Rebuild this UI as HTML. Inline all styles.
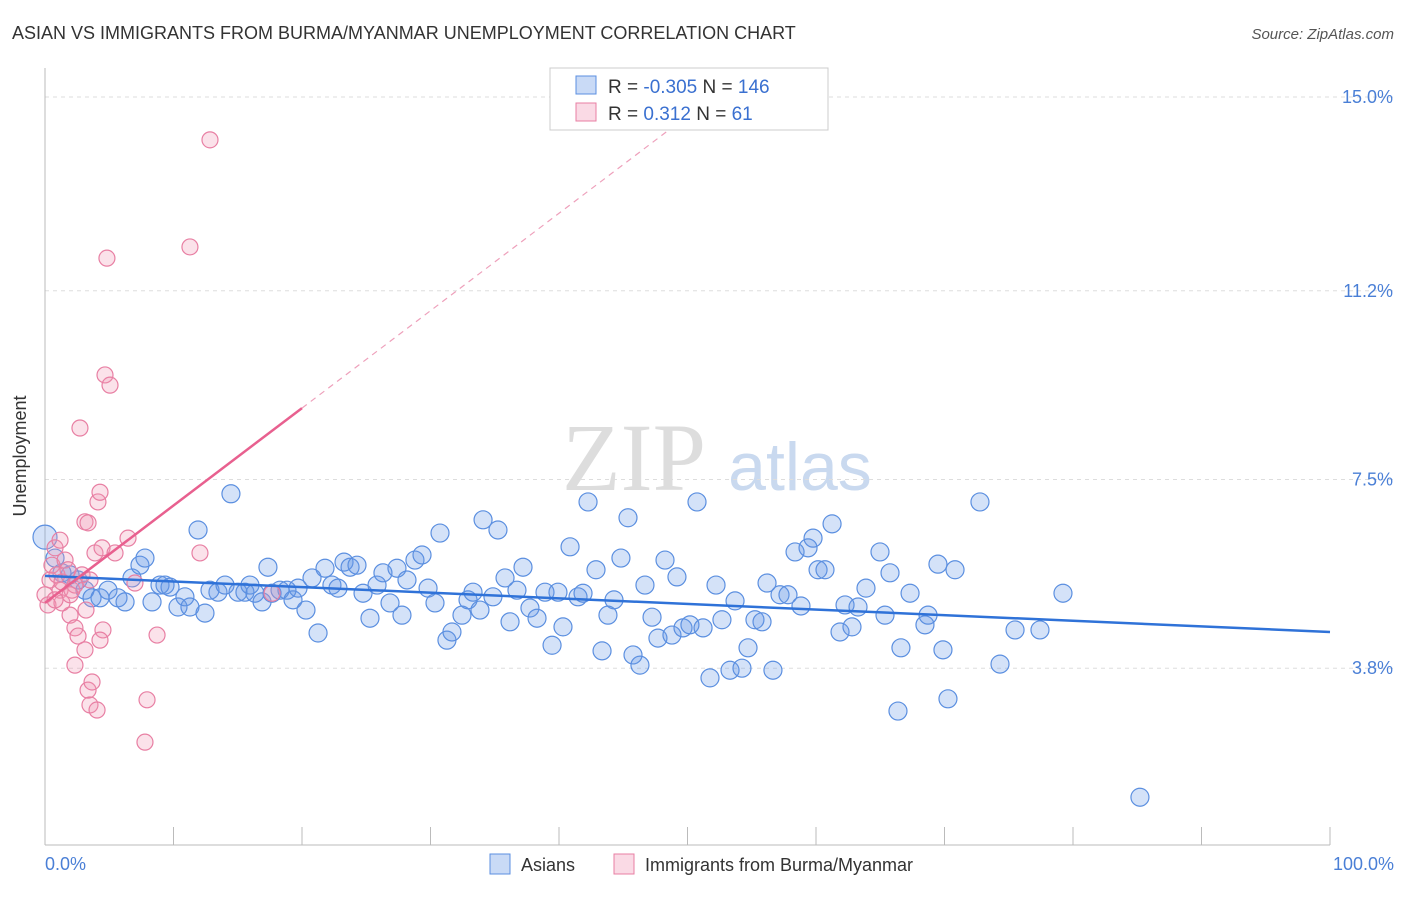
<!DOCTYPE html>
<html><head><meta charset="utf-8"><style>
body{margin:0;background:#fff;font-family:"Liberation Sans",sans-serif;}
</style></head><body>
<svg id="chart" width="1406" height="892" xmlns="http://www.w3.org/2000/svg">
<text x="12" y="39" font-size="18" fill="#333">ASIAN VS IMMIGRANTS FROM BURMA/MYANMAR UNEMPLOYMENT CORRELATION CHART</text>
<text x="1394" y="39" font-size="15" fill="#555" font-style="italic" text-anchor="end">Source: ZipAtlas.com</text>
<g>
<text x="634" y="490" font-size="96" fill="#ddd" font-family="Liberation Serif, serif" text-anchor="middle">ZIP</text>
<text x="800" y="490" font-size="68" fill="#c9d9ef" text-anchor="middle">atlas</text>
</g>
<g id="grid"></g>
<g id="axes"></g>
<g id="pts"></g>
<g id="lines"></g>
<text x="26" y="456" font-size="18" fill="#333" transform="rotate(-90 26 456)" text-anchor="middle">Unemployment</text>
<text x="45" y="870" font-size="18" fill="#4a7fd6">0.0%</text>
<text x="1394" y="870" font-size="18" fill="#4a7fd6" text-anchor="end">100.0%</text>
<g>
<rect x="550" y="68" width="278" height="62" fill="#fff" stroke="#ccc"/>
<rect x="576" y="76" width="20" height="18" fill="rgba(100,150,230,0.35)" stroke="#5b8fe0"/>
<rect x="576" y="103" width="20" height="18" fill="rgba(240,150,180,0.35)" stroke="#e87fa3"/>
<text x="608" y="93" font-size="19" fill="#333">R = <tspan fill="#3a70d0">-0.305</tspan>   N = <tspan fill="#3a70d0">146</tspan></text>
<text x="608" y="120" font-size="19" fill="#333">R =    <tspan fill="#3a70d0">0.312</tspan>   N =    <tspan fill="#3a70d0">61</tspan></text>
</g>
<g>
<rect x="490" y="854" width="20" height="20" fill="rgba(100,150,230,0.35)" stroke="#5b8fe0"/>
<text x="521" y="871" font-size="18" fill="#333">Asians</text>
<rect x="614" y="854" width="20" height="20" fill="rgba(240,150,180,0.35)" stroke="#e87fa3"/>
<text x="645" y="871" font-size="18" fill="#333">Immigrants from Burma/Myanmar</text>
</g>
</svg>
<script>
const yTicks=[15.0,11.2,7.5,3.8];
const yTickLabels=["15.0%","11.2%","7.5%","3.8%"];
const xTicks=[0,10,20,30,40,50,60,70,80,90,100];
const asianX=[0,0.78,1.32,1.95,2.57,3.11,3.66,4.28,4.90,5.68,6.23,6.77,7.39,7.78,8.33,8.95,9.34,9.73,10.35,10.89,11.28,11.91,12.45,12.84,13.46,14.01,14.47,15.02,15.56,15.95,16.34,16.89,17.35,17.67,18.29,18.83,19.30,19.69,20.31,20.78,21.25,21.79,22.33,22.80,23.27,23.74,24.28,24.75,25.29,25.84,26.30,26.85,27.39,27.78,28.17,28.79,29.34,29.81,30.35,30.74,31.28,31.67,32.45,32.92,33.31,33.85,34.09,34.86,35.25,35.80,36.19,36.73,37.20,37.74,38.29,38.91,39.46,39.92,40.31,40.86,41.48,41.87,42.26,42.88,43.35,43.81,44.28,44.82,45.37,45.76,46.30,46.69,47.24,47.70,48.25,48.79,49.18,49.65,50.19,50.74,51.21,51.75,52.22,52.68,53.31,53.70,54.24,54.71,55.25,55.80,56.19,56.65,57.20,57.82,58.37,58.83,59.38,59.77,60.16,60.70,61.25,61.87,62.26,62.80,63.27,63.89,64.98,65.37,65.76,66.38,66.61,67.32,68.48,68.72,69.49,69.88,70.27,70.82,72.76,74.32,75.49,77.43,79.22,85.21];
const asianY=[6.37,5.96,5.67,5.63,5.53,5.33,5.18,5.18,5.33,5.18,5.10,5.57,5.82,5.96,5.10,5.43,5.43,5.39,5.00,5.20,5.00,6.51,4.88,5.33,5.29,5.43,7.22,5.29,5.29,5.43,5.27,5.10,5.78,5.27,5.33,5.33,5.14,5.37,4.94,5.57,4.49,5.76,5.43,5.37,5.88,5.78,5.82,5.27,4.78,5.43,5.67,5.08,5.76,4.84,5.53,5.92,6.02,5.37,5.08,6.45,4.35,4.51,4.84,5.14,5.29,4.94,6.71,5.20,6.51,5.57,4.71,5.33,5.78,4.98,4.78,5.29,4.25,5.29,4.61,6.18,5.20,5.27,7.06,5.73,4.14,4.84,5.14,5.96,6.75,4.06,3.86,5.43,4.80,4.39,5.92,4.45,5.59,4.59,4.65,7.06,4.59,3.61,5.43,4.75,3.76,5.12,3.80,4.20,4.75,4.71,5.47,3.76,5.24,5.24,6.08,5.02,6.16,6.35,5.73,5.73,6.63,4.51,5.04,4.61,5.00,5.37,6.08,4.84,5.67,2.96,4.20,5.27,4.65,4.84,5.84,4.16,3.20,5.73,7.06,3.88,4.55,4.55,5.27,1.27];
const burmaX=[0,0.23,0.39,0.54,0.78,0.93,1.17,1.32,1.56,1.79,1.95,2.10,2.33,2.33,2.57,2.72,2.88,3.11,3.19,3.35,3.50,3.66,3.89,4.05,4.12,4.28,4.44,4.51,4.67,4.82,5.06,5.45,6.46,7.00,7.78,7.94,8.72,11.28,12.06,12.84,17.67,3.50,1.17,2.33,1.32,3.11,1.95,3.35,4.28,0.78];
const burmaY=[5.24,5.04,5.53,5.82,6.16,5.63,5.33,5.49,5.92,5.73,4.84,5.33,4.59,3.86,4.43,8.51,5.63,6.67,4.94,3.37,3.08,3.53,6.06,2.98,7.06,7.25,6.16,4.55,9.55,11.84,9.35,6.06,6.35,5.47,2.35,3.18,4.45,12.06,6.06,14.16,5.27,5.53,6.31,5.43,5.08,4.16,5.24,6.65,4.35,5.14];
const asianTrend=[5.61,-0.011];
const burmaTrend=[5.08,0.191];
const NS="http://www.w3.org/2000/svg";
const X=v=>45+v*12.85, Y=v=>862-v*51.0;
function mk(tag,attrs,parent){const e=document.createElementNS(NS,tag);for(const k in attrs)e.setAttribute(k,attrs[k]);document.getElementById(parent).appendChild(e);return e;}
yTicks.forEach((t,i)=>{
 const g=mk('line',{x1:45,x2:1395,y1:Y(t),y2:Y(t),stroke:'#ddd','stroke-dasharray':'4 4'},'grid');
 
 
 const l=mk('text',{x:1393,y:Y(t)+6,'font-size':18,fill:'#4a7fd6','text-anchor':'end'},'axes');
 l.textContent=yTickLabels[i];
 
 
});
const ax=mk('line',{x1:45,x2:1330,y1:845,y2:845,stroke:'#bbb'},'axes');


const ay=mk('line',{x1:45,x2:45,y1:68,y2:845,stroke:'#bbb'},'axes');


xTicks.forEach(t=>{
 const k=mk('line',{x1:X(t),x2:X(t),y1:827,y2:845,stroke:'#bbb'},'axes');
 
 
});
asianX.forEach((x,i)=>{
 const c=mk('circle',{cx:X(x),cy:Y(asianY[i]),r:i===0?12:9,fill:'rgba(100,150,230,0.28)',stroke:'#5b8fe0','stroke-width':1.2},'pts');
 
 
});
burmaX.forEach((x,i)=>{
 const c=mk('circle',{cx:X(x),cy:Y(burmaY[i]),r:8,fill:'rgba(240,150,180,0.28)',stroke:'#e87fa3','stroke-width':1.2},'pts');
 
 
});
const bl=mk('line',{x1:X(0),y1:Y(asianTrend[0]),x2:X(100),y2:Y(asianTrend[0]+asianTrend[1]*100),stroke:'#2f72d8','stroke-width':2.5},'lines');


const pl=mk('line',{x1:X(0),y1:Y(burmaTrend[0]),x2:X(20),y2:Y(burmaTrend[0]+burmaTrend[1]*20),stroke:'#e8608f','stroke-width':2.5},'lines');


const pd=mk('line',{x1:X(20),y1:Y(burmaTrend[0]+burmaTrend[1]*20),x2:X(50.2),y2:Y(burmaTrend[0]+burmaTrend[1]*50.2),stroke:'#eea0bb','stroke-width':1.2,'stroke-dasharray':'6 5'},'lines');


</script>
</body></html>
